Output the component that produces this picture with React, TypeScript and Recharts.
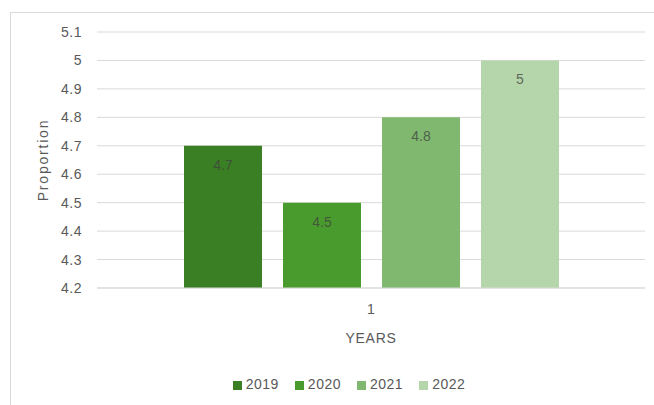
import { BarChart, Bar, XAxis, YAxis, CartesianGrid, Legend, LabelList } from "recharts";

const categories = ["1"];
const seriesNames = ["2019", "2020", "2021", "2022"];
const seriesValues = [4.7, 4.5, 4.8, 5];
const yTicks = [4.2, 4.3, 4.4, 4.5, 4.6, 4.7, 4.8, 4.9, 5, 5.1];

const colors = ["#3a7f23", "#4a9b2d", "#7fb86e", "#b5d5aa"];
const font = "'Liberation Sans', Arial, sans-serif";
const textColor = "#595959";

const data = categories.map((name) => {
    const row: Record<string, string | number> = { name };
    seriesNames.forEach((s, i) => {
        row[s] = seriesValues[i];
    });
    return row;
});

export default function App() {
    return (
        <div style={{ position: "absolute", left: 0, top: 0, width: 654, height: 405, background: "#fff", overflow: "hidden" }}>
            <div
                style={{
                    position: "absolute",
                    left: 10,
                    top: 12,
                    width: 660,
                    height: 420,
                    border: "1px solid #d9d9d9",
                }}
            />
            <div style={{ position: "absolute", left: 0, top: 0 }}>
                <BarChart
                    width={654}
                    height={405}
                    data={data}
                    margin={{ top: 32, right: 9, bottom: 57, left: 10 }}
                    barGap={21}
                    barSize={78}
                >
                    <CartesianGrid vertical={false} stroke="#d9d9d9" />
                    <XAxis
                        dataKey="name"
                        height={60}
                        axisLine={{ stroke: "#d9d9d9" }}
                        tickLine={false}
                        tickMargin={10}
                        tick={{ fill: textColor, fontSize: 14, fontFamily: font }}
                        label={{
                            value: "YEARS",
                            position: "insideBottom",
                            offset: 5,
                            fill: textColor,
                            fontSize: 14,
                            fontFamily: font,
                            style: { letterSpacing: 0.7 },
                        }}
                    />
                    <YAxis
                        width={87}
                        domain={[4.2, 5.1]}
                        ticks={yTicks}
                        interval={0}
                        axisLine={false}
                        tickLine={false}
                        tickMargin={9}
                        tick={{ fill: textColor, fontSize: 14, fontFamily: font, letterSpacing: 0.5 }}
                        label={{
                            value: "Proportion",
                            angle: -90,
                            position: "insideLeft",
                            offset: 33,
                            fill: textColor,
                            fontSize: 14,
                            fontFamily: font,
                            style: { textAnchor: "middle", letterSpacing: 1.8 },
                        }}
                    />
                    <Legend
                        layout="horizontal"
                        verticalAlign="middle"
                        align="center"
                        iconType="square"
                        iconSize={9}
                        wrapperStyle={{ top: 376, left: 106, width: 502, fontFamily: font, fontSize: 14 }}
                        formatter={(value) => (
                            <span style={{ color: textColor, marginRight: 6, letterSpacing: 0.5 }}>{value}</span>
                        )}
                    />
                    {seriesNames.map((s, i) => (
                        <Bar key={s} dataKey={s} fill={colors[i]} isAnimationActive={false}>
                            <LabelList
                                dataKey={s}
                                position="insideTop"
                                offset={14}
                                fill="#404040"
                                fillOpacity={0.75}
                                fontSize={14}
                                fontFamily={font}
                            />
                        </Bar>
                    ))}
                </BarChart>
            </div>
        </div>
    );
}
